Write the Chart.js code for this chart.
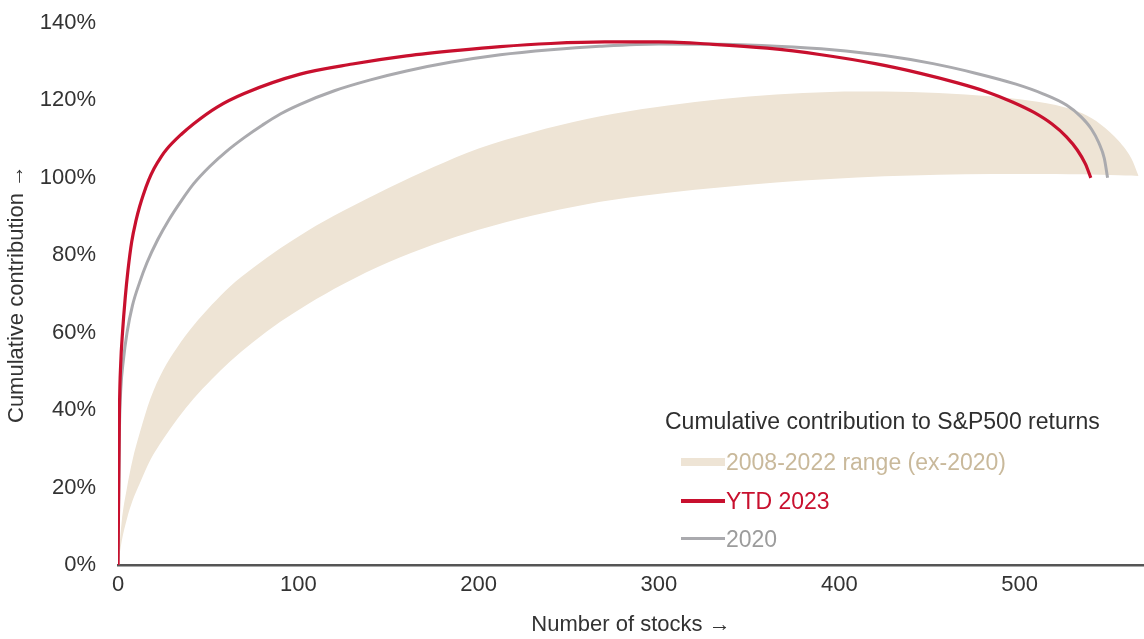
<!DOCTYPE html>
<html>
<head>
<meta charset="utf-8">
<script src="https://cdn.jsdelivr.net/npm/chart.js@4/dist/chart.umd.min.js"></script>
<style>
  html, body { margin: 0; padding: 0; background: #ffffff; }
  #wrap { position: relative; width: 1144px; height: 639px; }
  #legend { position: absolute; left: 0; top: 0; font-family: "Liberation Sans", Arial, sans-serif; }
  .lg-title { position: absolute; left: 665px; top: 408px; font-size: 23px; color: #2f2f2f; white-space: nowrap; line-height: 26px; }
  .lg-item { position: absolute; left: 681px; height: 26px; white-space: nowrap; font-size: 23px; line-height: 26px; }
  .lg-sw { display: inline-block; width: 44px; vertical-align: middle; margin-right: 1px; position: relative; top: -2px; }
</style>
</head>
<body>
<div id="wrap">
  <canvas id="c" width="1144" height="639"></canvas>
  <div id="legend"></div>
</div>
<script>
// ---- Data ----
const xTickLabels = ["0", "100", "200", "300", "400", "500"];
const yTickLabels = ["0%", "20%", "40%", "60%", "80%", "100%", "120%", "140%"];

const seriesNames = ["2008-2022 range (ex-2020)", "YTD 2023", "2020"];

// band (2008-2022 range, ex-2020): shared x positions, lower & upper edges (%)
const bandX     = [0, 2, 5, 8, 12, 18, 25, 33, 42, 52, 62, 75, 90, 105, 125, 150, 175, 200, 230, 260, 290, 320, 350, 380, 410, 440, 470, 500, 520, 535, 545, 555, 562, 566];
const bandLower = [0, 6, 12, 16.5, 21, 27.2, 32.5, 37.8, 43, 48, 52.5, 57.6, 62.8, 67.3, 72.6, 78.2, 82.8, 86.6, 90.3, 93.2, 95.3, 96.9, 98.2, 99.3, 100.1, 100.6, 100.9, 101, 101, 100.9, 100.8, 100.7, 100.6, 100.5];
const bandUpper = [0, 11, 20, 27, 34, 43, 50.3, 56.3, 61.9, 67.2, 71.9, 76.8, 81.8, 86.3, 91.5, 97.4, 102.8, 107.6, 111.8, 115.2, 117.7, 119.6, 121, 121.9, 122.3, 122.2, 121.5, 120.3, 118.8, 116.6, 113.8, 109.5, 105, 100.5];

// YTD 2023
const ytdX = [0, 0.8, 1.5, 2.5, 4, 5.5, 7.6, 10, 12, 14, 17, 20, 24, 27, 35, 42, 55, 70, 101, 130, 160, 190, 212, 240, 270, 300, 330, 360, 390, 420, 445, 465, 482, 496, 508, 518, 526, 532, 536.5, 539.5];
const ytdY = [0, 40, 52, 60, 69, 76, 83.5, 89, 92.6, 95.6, 99.4, 102.4, 105.5, 107.4, 111.2, 114, 118.3, 121.8, 126.8, 129.4, 131.5, 133, 133.9, 134.7, 135.1, 135.1, 134.5, 133.5, 131.8, 129.5, 127, 124.6, 122.2, 119.6, 116.9, 113.9, 110.6, 107.2, 103.6, 100];

// 2020
const y2020X = [0, 0.8, 1.5, 3, 5, 8, 12, 16, 22, 28, 35, 42, 51, 60, 70, 80, 90, 101, 120, 140, 160, 185, 212, 240, 267, 300, 334, 365, 396, 425, 452, 475, 498, 513, 526, 534, 540, 544, 547, 548.8];
const y2020Y = [0, 35, 45, 53, 60, 67, 73, 78, 84, 89, 94, 98.5, 103, 106.8, 110.4, 113.6, 116.5, 119, 122.5, 125.3, 127.6, 129.9, 131.8, 133.1, 134, 134.6, 134.5, 134, 133.1, 131.6, 129.5, 127.1, 124.2, 121.7, 118.8, 115.8, 112.5, 109, 105, 100];

// ---- Styles ----
const BAND = "#eee4d5";
const RED = "#c8102e";
const GREY = "#aaaaae";
const FONT = "'Liberation Sans', Arial, sans-serif";
const TEXT = "#333333";

const pts = (xs, ys) => xs.map((x, i) => ({ x: x, y: ys[i] }));

const ctx = document.getElementById("c").getContext("2d");
new Chart(ctx, {
  type: "line",
  data: {
    datasets: [
      { label: "band-lower", data: pts(bandX, bandLower), borderWidth: 0, borderColor: BAND, pointRadius: 0, fill: false, cubicInterpolationMode: "monotone", order: 4 },
      { label: seriesNames[0], data: pts(bandX, bandUpper), borderWidth: 0, borderColor: BAND, backgroundColor: BAND, pointRadius: 0, fill: "-1", cubicInterpolationMode: "monotone", order: 3 },
      { label: seriesNames[2], data: pts(y2020X, y2020Y), borderColor: GREY, borderWidth: 3, pointRadius: 0, fill: false, cubicInterpolationMode: "monotone", order: 2 },
      { label: seriesNames[1], data: pts(ytdX, ytdY), borderColor: RED, borderWidth: 3.2, pointRadius: 0, fill: false, cubicInterpolationMode: "monotone", order: 1 }
    ]
  },
  options: {
    responsive: false,
    animation: false,
    events: [],
    layout: { padding: { left: 0, right: 0, top: 23, bottom: 0 } },
    plugins: { legend: { display: false }, tooltip: { enabled: false } },
    scales: {
      x: {
        type: "linear",
        min: 0,
        max: 569,
        grid: { display: false, drawTicks: false },
        border: { display: true, color: "#555555", width: 2.5 },
        ticks: {
          stepSize: 100,
          includeBounds: false,
          padding: 7,
          color: TEXT,
          font: { family: FONT, size: 22 },
          callback: (v) => xTickLabels[Math.round(v / 100)] ?? ""
        },
        title: { display: true, text: "Number of stocks →", color: TEXT, font: { family: FONT, size: 22 }, padding: { top: 0, bottom: 1 } },
        afterFit: (s) => { s.height = 74; }
      },
      y: {
        min: 0,
        max: 140,
        grid: { display: true, drawOnChartArea: false, drawTicks: true, tickLength: 22, color: "rgba(0,0,0,0)" },
        border: { display: false },
        ticks: {
          stepSize: 20,
          padding: 0,
          color: TEXT,
          font: { family: FONT, size: 22 },
          callback: (v) => yTickLabels[Math.round(v / 20)] ?? ""
        },
        title: { display: true, text: "Cumulative contribution →", color: TEXT, font: { family: FONT, size: 22 }, padding: { top: 4, bottom: 0 } },
        afterFit: (s) => { s.width = 118; }
      }
    }
  }
});

// ---- Legend (HTML text) ----
const legend = document.getElementById("legend");
const title = document.createElement("div");
title.className = "lg-title";
title.textContent = "Cumulative contribution to S&P500 returns";
legend.appendChild(title);

const legendItems = [
  { name: seriesNames[0], color: BAND, text: "#c9b99b", h: 8, top: 449 },
  { name: seriesNames[1], color: RED, text: "#c8102e", h: 4, top: 488 },
  { name: seriesNames[2], color: GREY, text: "#9c9c9c", h: 3, top: 526 }
];
legendItems.forEach((it) => {
  const row = document.createElement("div");
  row.className = "lg-item";
  row.style.top = it.top + "px";
  const sw = document.createElement("span");
  sw.className = "lg-sw";
  sw.style.height = it.h + "px";
  sw.style.background = it.color;
  const tx = document.createElement("span");
  tx.textContent = it.name;
  tx.style.color = it.text;
  row.appendChild(sw);
  row.appendChild(tx);
  legend.appendChild(row);
});
</script>
</body>
</html>
